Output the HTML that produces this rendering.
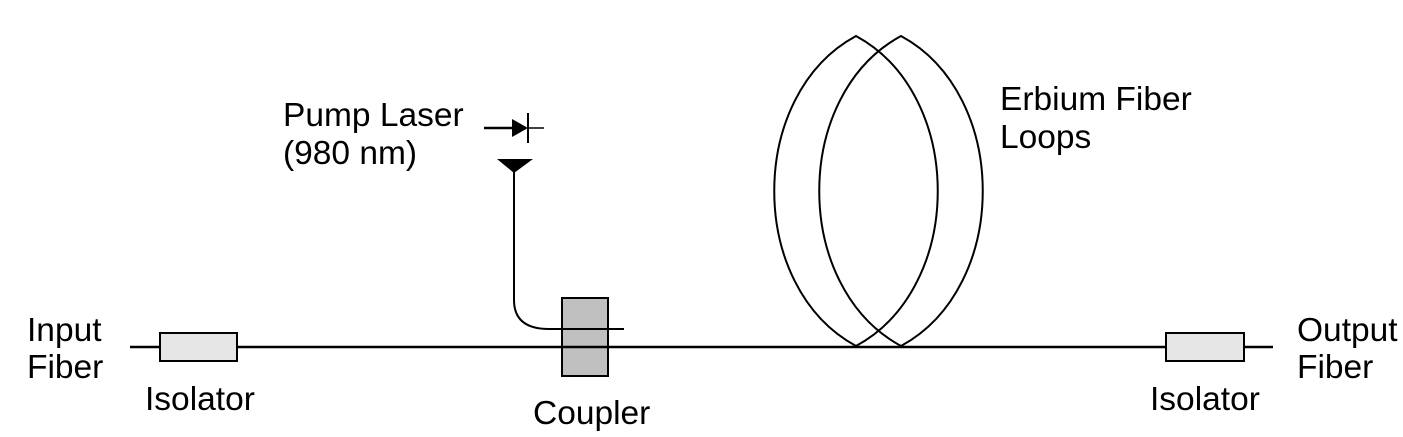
<!DOCTYPE html>
<html><head><style>body{margin:0;background:#fff}svg{display:block}text{font-family:"Liberation Sans",sans-serif;font-size:33.5px;fill:#000}</style></head>
<body>
<svg width="1403" height="437" viewBox="0 0 1403 437">
<line x1="130" y1="347" x2="1273" y2="347" stroke="#000" stroke-width="2.5"/>
<rect x="160" y="333" width="77" height="28" fill="#e6e6e6" stroke="#000" stroke-width="2"/>
<rect x="1166" y="333" width="78" height="28" fill="#e6e6e6" stroke="#000" stroke-width="2"/>
<rect x="562" y="298" width="46" height="78" fill="#c0c0c0" stroke="#000" stroke-width="2"/>
<line x1="562" y1="347" x2="608" y2="347" stroke="#000" stroke-width="2.5"/>
<path d="M514,170 L514,300 Q514,329 549,329 L624,329" fill="none" stroke="#000" stroke-width="2"/>
<polygon points="497,159 533,159 514,173" fill="#000"/>
<line x1="484" y1="128" x2="512" y2="128" stroke="#000" stroke-width="2.5"/>
<polygon points="512,119 512,137 528,128" fill="#000"/>
<line x1="528" y1="113" x2="528" y2="143" stroke="#000" stroke-width="2"/>
<line x1="528" y1="128" x2="544" y2="128" stroke="#000" stroke-width="1.5"/>
<path d="M856,36 C747,95 747,287 856,346 C965,287 965,95 856,36Z" fill="none" stroke="#000" stroke-width="2"/>
<path d="M901,36 C792,95 792,287 901,346 C1010,287 1010,95 901,36Z" fill="none" stroke="#000" stroke-width="2"/>
<text x="27" y="341">Input</text>
<text x="27" y="378">Fiber</text>
<text x="145" y="410">Isolator</text>
<text x="533" y="424">Coupler</text>
<text x="283" y="126">Pump Laser</text>
<text x="283" y="164">(980 nm)</text>
<text x="1000" y="110">Erbium Fiber</text>
<text x="1000" y="148">Loops</text>
<text x="1297" y="341">Output</text>
<text x="1297" y="378">Fiber</text>
<text x="1150" y="410">Isolator</text>
</svg>
</body></html>
